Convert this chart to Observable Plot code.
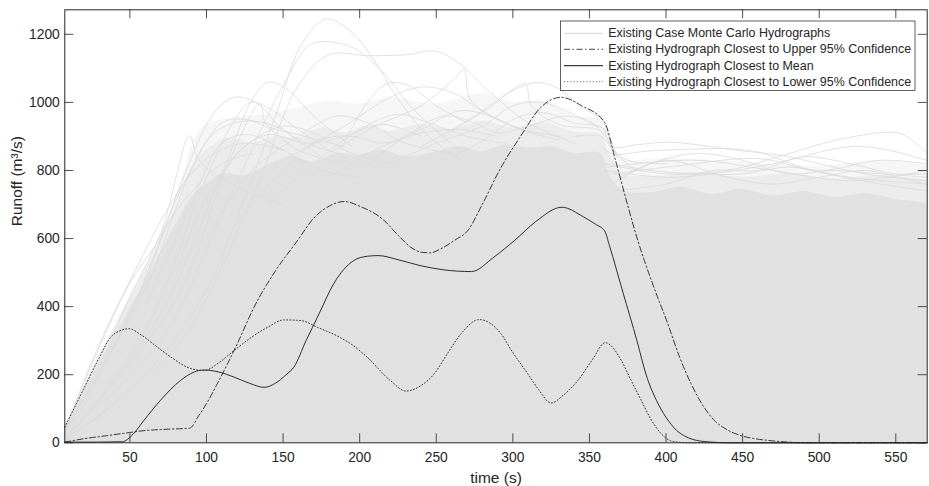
<!DOCTYPE html>
<html>
<head>
<meta charset="utf-8">
<script src="https://cdn.jsdelivr.net/npm/d3@7"></script>
<script src="https://cdn.jsdelivr.net/npm/@observablehq/plot@0.6"></script>
<style>
  body { margin: 0; background: white; }
  #wrap { position: relative; width: 929px; height: 486px; font-family: "Liberation Sans", Arial, sans-serif; }
  #legend { position: absolute; left: 0; top: 0; pointer-events: none; }
</style>
</head>
<body>
<div id="wrap"></div>
<script>
// ---------- data ----------
const xTicks = [50, 100, 150, 200, 250, 300, 350, 400, 450, 500, 550];
const yTicks = [0, 200, 400, 600, 800, 1000, 1200];

const legendLabels = [
  "Existing Case Monte Carlo Hydrographs",
  "Existing Hydrograph Closest to Upper 95% Confidence",
  "Existing Hydrograph Closest to Mean",
  "Existing Hydrograph Closest to Lower 95% Confidence"
];

// dense core of the Monte Carlo cloud (upper boundary of the solid grey mass)
const coreEnvelope = [
  [7.5,40],[23.5,180],[46,360],[68,540],[81,650],[92,730],[100,760],[110,790],[125,785],[140,815],
  [155,840],[170,825],[185,850],[200,845],[215,860],[230,840],[250,855],[265,870],[280,855],[295,875],
  [310,865],[325,870],[340,850],[357,850],[363,790],[372,740],[390,735],[410,750],[430,730],[450,745],
  [470,725],[490,738],[510,720],[530,732],[550,715],[570.5,705]
];
// intermediate band
const midEnvelope = [
  [7.5,44],[23.5,195],[46,385],[68,575],[81,700],[92,815],[100,860],[115,895],[130,880],[145,900],
  [160,895],[175,925],[190,910],[205,930],[220,915],[240,935],[260,920],[280,945],[300,925],[320,940],
  [340,912],[357,905],[363,850],[372,790],[390,782],[420,795],[450,780],[480,790],[510,775],[540,785],
  [570.5,770]
];
// loose outer band of overlapping hydrographs
const outerEnvelope = [
  [7.5,46],[23.5,203],[46,398],[68,594],[81,731],[92,885],[100,935],[120,955],[140,965],[160,985],
  [180,1005],[200,995],[220,1015],[250,995],[280,1025],[300,1000],[320,1005],[340,960],[357,948],
  [363,890],[372,835],[400,835],[450,825],[500,812],[540,830],[570.5,815]
];

// individual Monte Carlo hydrographs visible above / within the cloud
const mcLines = [
  [[7.5,15],[25,150],[45,380],[70,614],[89,902],[94,838],[105,790],[125,740],[150,700]],
  [[7.5,0],[60,200],[100,450],[125,720],[145,960],[162,1170],[178,1245],[195,1205],[210,1120],[225,1010],[245,900],[270,820]],
  [[7.5,20],[70,300],[115,720],[150,1050],[168,1170],[185,1175],[200,1150],[215,1090],[235,980],[260,880]],
  [[7.5,10],[80,280],[130,720],[160,1050],[180,1140],[205,1137],[230,1140],[250,1150],[265,1115],[285,1030],[310,940],[340,880]],
  [[7.5,40],[60,450],[90,800],[110,940],[125,950],[140,925],[160,860],[190,820]],
  [[7.5,30],[55,420],[85,780],[105,970],[118,1015],[132,1000],[150,920],[175,840]],
  [[7.5,0],[70,380],[110,790],[130,1010],[140,1059],[152,1040],[170,960],[195,870]],
  [[7.5,5],[80,420],[115,830],[135,996],[139,935],[160,905],[190,870]],
  [[7.5,25],[50,380],[85,760],[105,910],[125,945],[145,930],[165,880],[190,845]],
  [[7.5,10],[60,330],[100,780],[120,960],[129,1000],[140,985],[160,920],[180,860]],
  [[180,850],[210,930],[240,990],[262,1070],[268,1098],[272,1010],[290,950],[320,900]],
  [[150,830],[190,930],[220,1015],[240,1045],[260,1030],[280,975],[300,930],[330,900]],
  [[240,870],[275,960],[298,1030],[315,1058],[330,1040],[345,985],[358,950],[366,860],[380,800]],
  [[255,900],[285,985],[308,1054],[312,990],[330,935],[358,915],[366,850]],
  [[190,880],[205,1000],[218,1055],[232,1050],[250,990],[270,940]],
  [[340,900],[358,900],[365,868],[380,875],[402,883],[430,870],[449,858],[476,844],[500,820],[530,790],[570.5,770]],
  [[360,820],[400,790],[440,800],[476,844],[510,888],[543,912],[554,907],[570.5,852]],
  [[358,870],[365,849],[391,858],[456,858],[489,809],[520,780],[570.5,760]],
  [[360,800],[400,780],[430,790],[470,820],[520,870],[545,860],[570.5,829]],
  [[362,810],[420,830],[470,800],[520,770],[570.5,800]],
  [[365,790],[410,815],[460,835],[500,800],[540,830],[570.5,820]],
  [[60,400],[90,700],[110,880],[128,905],[150,860],[175,800],[200,780]],
  [[80,500],[100,720],[125,870],[150,930],[170,910],[195,850],[220,820]],
  [[100,600],[130,800],[160,900],[185,960],[205,940],[230,880],[260,850]],
  [[140,700],[170,820],[200,920],[225,965],[245,940],[270,900],[295,880]],
  [[180,780],[210,860],[240,920],[265,975],[285,960],[305,920],[330,890]],
  [[200,800],[230,900],[255,960],[275,940],[290,910],[310,930],[335,960],[352,940],[360,900]],
  [[220,820],[250,880],[280,930],[300,990],[318,1000],[335,975],[350,940],[360,920],[368,840]],
  [[100,700],[120,850],[140,905],[165,880],[190,900],[215,935],[240,900]],
  [[120,650],[150,800],[175,890],[195,900],[215,880],[240,910],[265,920],[290,900]],
  [[260,840],[285,900],[300,950],[320,970],[340,940],[358,925],[364,870],[375,830],[400,820]],
  [[364,760],[390,820],[420,850],[450,830],[480,790],[510,800],[540,790],[570.5,780]],
  [[366,740],[400,760],[430,800],[460,800],[490,840],[520,820],[550,790],[570.5,790]],
  [[370,780],[400,830],[440,780],[470,760],[500,780],[530,800],[560,770],[570.5,760]],
  [[365,820],[390,800],[420,790],[450,790],[480,810],[505,790],[540,760],[570.5,740]],
  [[7.5,35],[30,290],[55,520],[75,690],[90,790],[105,850],[125,880],[150,860]],
  [[7.5,42],[28,260],[50,470],[65,570],[80,680],[95,760],[110,820],[130,850]]
];

const upperPts = [
  [7.5,2],[20,12],[35,21],[47.8,29],[60,36],[75,40],[89,43],[95,80],[100,115],[107,173],[120,290],
  [131,398],[145,505],[159.4,594],[170,660],[180,695],[189.9,709],[200,695],[216,653],[225,610],
  [233.5,574],[240,560],[246,558],[253,570],[262,595],[270.5,623],[280,700],[292.3,809],[305,900],
  [318.4,986],[331.5,1015],[345,990],[359.8,942],[367,830],[374.4,707],[381.6,594],[391,470],
  [401.2,349],[409,250],[416.4,173],[424,110],[431.7,65],[440,38],[449,21],[458,12],[466.6,7],
  [480,2],[490,0],[570.5,0]
];
const meanPts = [
  [7.5,2],[30,2],[45,3],[52,25],[59,65],[70,125],[83,183],[92,208],[98,214],[108,208],[118,193],
  [128,175],[137.6,163],[145,175],[152,200],[157,222],[165,300],[173.5,379],[183,467],[196,535],
  [205,548],[212,550],[225,538],[240,520],[255,508],[273,503],[287.5,545],[301,594],[315,650],
  [332,692],[346,664],[354,642],[360,622],[363,580],[372,440],[381,300],[387,200],[393.8,124],[400,75],
  [407,36],[413,18],[420,7],[430,2],[440,0],[570.5,0]
];
const lowerPts = [
  [7.5,46],[20,160],[30,250],[37.4,310],[43,328],[49.3,335],[58,315],[67.9,281],[78,248],[87.5,222],
  [98.4,212],[108,235],[118,271],[130,312],[139.8,339],[150.6,361],[161.6,359],[172.5,339],[187,310],
  [196,285],[205,251],[220,183],[230.2,152],[240,168],[248.7,203],[257,260],[266.1,320],[278.1,362],
  [292.3,320],[300,265],[309.7,203],[317,155],[325,117],[333,140],[342.4,183],[352,245],[360.3,294],
  [370.8,242],[377,185],[383.9,124],[390,70],[397,26],[402,8],[407.5,2],[415,0],[570.5,0]
];

// ---------- tables ----------
const toRows = (pts) => pts.map(([x, y]) => ({x, y}));
const mcRows = mcLines.flatMap((pts, i) => pts.map(([x, y]) => ({id: i, x, y})));

const W = 929, H = 486;
const mL = 64.3, mR = 2.3, mT = 9.3, mB = 43.7;
const frameW = W - mL - mR, frameH = H - mT - mB;
const tickLen = 9;
const axisColor = "#262626";
const cloud = "#e1e1e1";

const chart = Plot.plot({
  width: W, height: H,
  marginLeft: mL, marginRight: mR, marginTop: mT, marginBottom: mB,
  x: {domain: [7.5, 570.5], label: null},
  y: {domain: [0, 1272], label: null},
  style: {fontFamily: "'Liberation Sans', Arial, sans-serif", color: axisColor, background: "white", overflow: "visible"},
  marks: [
    Plot.areaY(toRows(outerEnvelope), {x: "x", y: "y", fill: cloud, fillOpacity: 0.3, curve: "catmull-rom"}),
    Plot.areaY(toRows(midEnvelope), {x: "x", y: "y", fill: cloud, fillOpacity: 0.45, curve: "catmull-rom"}),
    Plot.areaY(toRows(coreEnvelope), {x: "x", y: "y", fill: cloud, curve: "catmull-rom"}),
    Plot.line(mcRows, {x: "x", y: "y", z: "id", stroke: "#dbdbdb", strokeWidth: 0.8, curve: "catmull-rom"}),
    Plot.line(toRows(lowerPts), {x: "x", y: "y", stroke: "#333", strokeWidth: 1, strokeDasharray: "1,2.2", curve: "monotone-x"}),
    Plot.line(toRows(upperPts), {x: "x", y: "y", stroke: "#222", strokeWidth: 0.9, strokeDasharray: "6,2.5,1.5,2.5", curve: "monotone-x"}),
    Plot.line(toRows(meanPts), {x: "x", y: "y", stroke: "#1a1a1a", strokeWidth: 0.9, curve: "monotone-x"}),
    Plot.frame({stroke: axisColor, strokeWidth: 1}),
    Plot.tickX(xTicks, {x: d => d, insetTop: frameH - tickLen, stroke: axisColor, strokeWidth: 0.8}),
    Plot.tickX(xTicks, {x: d => d, insetBottom: frameH - tickLen, stroke: axisColor, strokeWidth: 0.8}),
    Plot.tickY(yTicks, {y: d => d, insetRight: frameW - tickLen, stroke: axisColor, strokeWidth: 0.8}),
    Plot.tickY(yTicks, {y: d => d, insetLeft: frameW - tickLen, stroke: axisColor, strokeWidth: 0.8}),
    Plot.axisX({ticks: xTicks, tickSize: 0, tickPadding: 9.5, fontSize: 13.8, label: null, tickFormat: d => String(d)}),
    Plot.axisY({ticks: yTicks, tickSize: 0, tickPadding: 5, fontSize: 13.8, label: null, tickFormat: d => String(d)}),
    Plot.text(["time (s)"], {frameAnchor: "bottom", dy: 40.5, fontSize: 15.5, fill: axisColor}),
    Plot.text(["Runoff (m³/s)"], {frameAnchor: "left", dx: -48, rotate: -90, fontSize: 15.5, fill: axisColor})
  ]
});

const wrap = document.getElementById("wrap");
wrap.appendChild(chart);

// ---------- legend ----------
const ns = "http://www.w3.org/2000/svg";
const leg = document.createElementNS(ns, "svg");
leg.setAttribute("id", "legend");
leg.setAttribute("width", W);
leg.setAttribute("height", H);
const box = {x: 560.5, y: 21, w: 354.5, h: 69.5};
const rect = document.createElementNS(ns, "rect");
rect.setAttribute("x", box.x); rect.setAttribute("y", box.y);
rect.setAttribute("width", box.w); rect.setAttribute("height", box.h);
rect.setAttribute("fill", "white"); rect.setAttribute("stroke", "#3a3a3a"); rect.setAttribute("stroke-width", "0.8");
leg.appendChild(rect);
const rowsY = [33.3, 49.3, 65.7, 81.7];
const sampleStyles = [
  {stroke: "#d6d6d6", dash: null, width: 1},
  {stroke: "#444", dash: "6,2.5,1.5,2.5", width: 1},
  {stroke: "#111", dash: null, width: 1},
  {stroke: "#555", dash: "1,2.2", width: 1}
];
legendLabels.forEach((label, i) => {
  const ln = document.createElementNS(ns, "line");
  ln.setAttribute("x1", 564); ln.setAttribute("x2", 603);
  ln.setAttribute("y1", rowsY[i]); ln.setAttribute("y2", rowsY[i]);
  ln.setAttribute("stroke", sampleStyles[i].stroke);
  ln.setAttribute("stroke-width", sampleStyles[i].width);
  if (sampleStyles[i].dash) ln.setAttribute("stroke-dasharray", sampleStyles[i].dash);
  leg.appendChild(ln);
  const t = document.createElementNS(ns, "text");
  t.setAttribute("x", 608.3); t.setAttribute("y", rowsY[i]);
  t.setAttribute("dominant-baseline", "central");
  t.setAttribute("font-size", "12.45");
  t.setAttribute("font-family", "'Liberation Sans', Arial, sans-serif");
  t.setAttribute("fill", "#262626");
  t.textContent = label;
  leg.appendChild(t);
});
wrap.appendChild(leg);
</script>
</body>
</html>
